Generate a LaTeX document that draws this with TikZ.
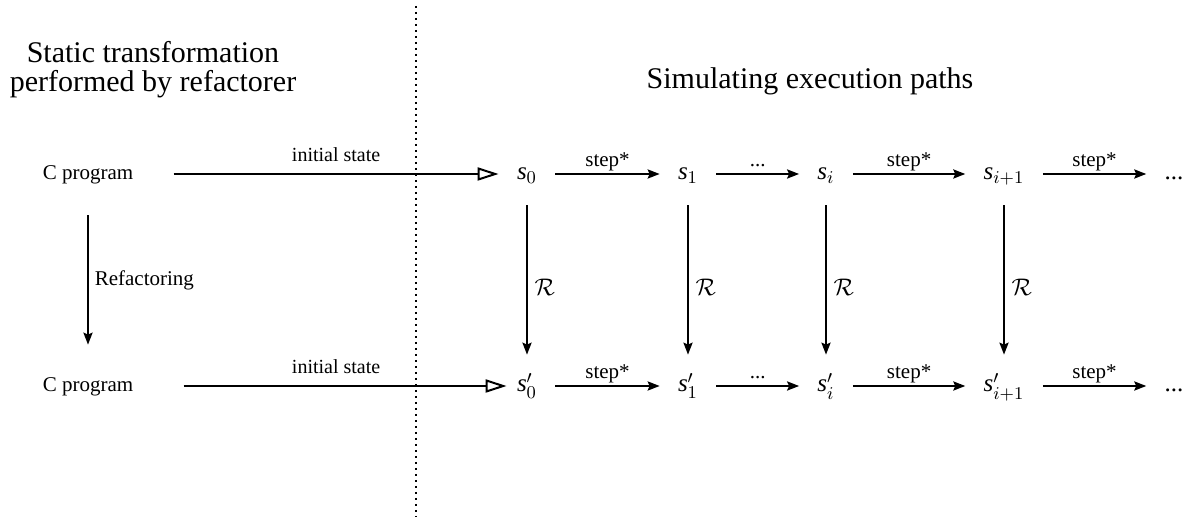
\documentclass[tikz,border=0pt]{standalone}
\usepackage{fontspec}
\setmainfont{Liberation Serif}
\usepackage{amsmath}
\usepackage{tikz}
\usetikzlibrary{arrows.meta,positioning}

\begin{document}
\begin{tikzpicture}[
    x=0.5pt, y=-0.5pt,
    title/.style={font=\fontsize{15}{14.5}\selectfont, align=center},
    prog/.style={font=\fontsize{10.5}{12}\selectfont, inner xsep=20pt, inner ysep=15.5pt, text height=8pt, text depth=2pt},
    state/.style={font=\fontsize{12.5}{14}\selectfont, inner xsep=9pt, inner ysep=9.5pt, text height=9pt, text depth=3pt},
    lab/.style={font=\fontsize{10.5}{12}\selectfont, inner sep=1pt, text depth=2.3pt},
    arr/.style={-{Stealth[length=6pt, width=4.6pt, inset=1pt]}, line width=0.85pt},
    init/.style={-{Triangle[open, length=10.5pt, width=6.5pt, line width=1pt]}, line width=1.4pt}
]
  \useasboundingbox (0,0) rectangle (1188,517);

  % headings and the dividing line
  \node[title] (lefttitle) at (153,70) {Static transformation\\performed by refactorer};
  \node[title] (righttitle) at (810,81) {Simulating execution paths};
  \draw[dotted, line width=1pt] (416,6) -- (416,517);

  % original program and its states
  \node[prog] (prog1) at (88,174) {C program};
  \node[state] (s0) at (527,174) {$\mathit{s}_0$};
  \node[state] (s1) at (688,174) {$\mathit{s}_1$};
  \node[state] (si) at (826,174) {$\mathit{s}_i$};
  \node[state] (sii) at (1004,174) {$\mathit{s}_{i+1}$};
  \node[state] (sdots) at (1174,174) {...};

  % refactored program and its states
  \node[prog] (prog2) at (88,386) {C program};
  \node[state] (p0) at (527,386) {$\mathit{s}'_0$};
  \node[state] (p1) at (688,386) {$\mathit{s}'_1$};
  \node[state] (pi) at (826,386) {$\mathit{s}'_i$};
  \node[state] (pii) at (1004,386) {$\mathit{s}'_{i+1}$};
  \node[state] (pdots) at (1174,386) {...};

  \draw[init] (prog1) -- node[lab, above=2pt, font=\fontsize{10}{12}\selectfont] {initial state} (s0);
  \draw[init, shorten <=5pt, shorten >=-4pt] (prog2) -- node[lab, above=2pt, font=\fontsize{10}{12}\selectfont] {initial state} (p0);
  \draw[arr] (prog1) -- node[right, inner sep=3pt, font=\fontsize{10.5}{12}\selectfont] {Refactoring} (prog2);

  \draw[arr] (s0) -- node[lab, above] {step*} (s1);
  \draw[arr] (s1) -- node[lab, above] {...} (si);
  \draw[arr] (si) -- node[lab, above] {step*} (sii);
  \draw[arr] (sii) -- node[lab, above] {step*} (sdots);

  \draw[arr] (p0) -- node[lab, above] {step*} (p1);
  \draw[arr] (p1) -- node[lab, above] {...} (pi);
  \draw[arr] (pi) -- node[lab, above] {step*} (pii);
  \draw[arr] (pii) -- node[lab, above] {step*} (pdots);

  \foreach \a/\b in {s0/p0, s1/p1, si/pi, sii/pii}
    \draw[arr] (\a) -- node[right, pos=.55, font=\fontsize{12.5}{14}\selectfont] {$\mathcal{R}$} (\b);
\end{tikzpicture}
\end{document}
